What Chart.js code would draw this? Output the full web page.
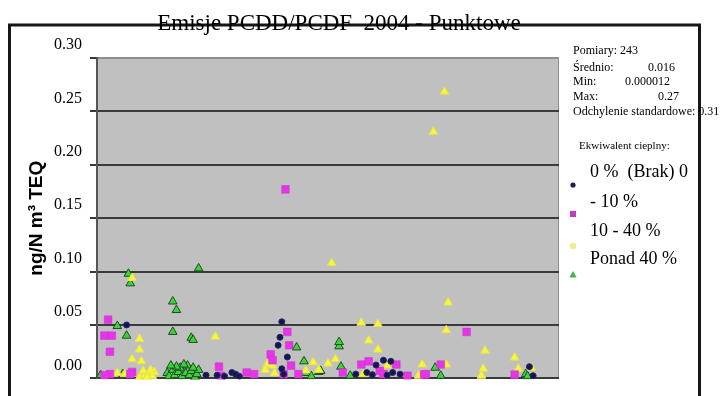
<!DOCTYPE html>
<html>
<head>
<meta charset="utf-8">
<script src="https://cdn.jsdelivr.net/npm/chart.js@4.4.1/dist/chart.umd.min.js"></script>
<style>
  html, body { margin: 0; padding: 0; background: #fff; }
  #wrap { width: 728px; height: 396px; }
</style>
</head>
<body>
<div id="wrap"><canvas id="c" width="728" height="396"></canvas></div>
<script>
// ---- Data (x = measurement sequence position, y = ng/N m3 TEQ) ----
const yTicks = [0.00, 0.05, 0.10, 0.15, 0.20, 0.25, 0.30];
const seriesNames = ['0 %  (Brak) 0', '- 10 %', '10 - 40 %', 'Ponad 40 %'];

const brakX = [16, 59, 100, 99, 98, 103, 100, 65, 69, 73, 75, 77, 101, 146, 149, 151, 155, 159, 160, 164, 140, 157, 236, 234];
const brakY = [0.050, 0.003, 0.053, 0.0385, 0.031, 0.020, 0.009, 0.003, 0.002, 0.0055, 0.004, 0.002, 0.004, 0.0055, 0.0035, 0.0125, 0.017, 0.016, 0.0055, 0.004, 0.004, 0.003, 0.0025, 0.011];

const do10X = [6, 4, 8, 7, 7, 19, 18, 102, 103, 104, 94, 95, 105, 66, 67, 81, 85, 101, 109, 143, 147, 162, 153, 155, 168, 177, 133, 186, 178, 200, 226, 4];
const do10Y = [0.055, 0.040, 0.040, 0.025, 0.004, 0.006, 0.004, 0.177, 0.0435, 0.031, 0.0225, 0.017, 0.012, 0.011, 0.0025, 0.0055, 0.004, 0.004, 0.004, 0.013, 0.016, 0.013, 0.007, 0.004, 0.0025, 0.0035, 0.0055, 0.013, 0.004, 0.0435, 0.0035, 0.003];

const do40X = [19, 23, 23, 19, 24, 11, 15, 23, 26, 28, 30, 31, 25, 27, 29, 64, 92, 95, 96, 91, 117, 120, 113, 125, 129, 127, 143, 152, 147, 152, 157, 144, 176, 174, 188, 182, 190, 189, 189, 210, 226, 209, 208, 228, 235];
const do40Y = [0.094, 0.037, 0.027, 0.018, 0.016, 0.005, 0.004, 0.001, 0.003, 0.005, 0.002, 0.006, 0.007, 0.001, 0.008, 0.039, 0.013, 0.012, 0.005, 0.008, 0.015, 0.008, 0.0074, 0.014, 0.018, 0.108, 0.052, 0.051, 0.0355, 0.027, 0.012, 0.004, 0.013, 0.0025, 0.2685, 0.231, 0.071, 0.045, 0.013, 0.026, 0.0195, 0.009, 0.0025, 0.009, 0.010];

const ponadX = [17, 18, 55, 41, 43, 41, 51, 52, 11, 16, 2, 14, 38, 39, 41, 42, 44, 45, 46, 48, 49, 50, 51, 53, 54, 55, 47, 43, 40, 52, 108, 112, 113, 116, 120, 131, 131, 132, 121, 137, 183, 186, 232, 233];
const ponadY = [0.098, 0.089, 0.103, 0.072, 0.064, 0.0435, 0.038, 0.036, 0.049, 0.040, 0.003, 0.004, 0.005, 0.002, 0.008, 0.003, 0.006, 0.010, 0.002, 0.005, 0.012, 0.003, 0.007, 0.001, 0.004, 0.008, 0.013, 0.011, 0.012, 0.010, 0.029, 0.016, 0.005, 0.002, 0.006, 0.030, 0.034, 0.011, 0.007, 0.0025, 0.010, 0.0025, 0.004, 0.002];

const statLabels = ['Pomiary: 243', 'Średnio:', 'Min:', 'Max:', 'Odchylenie standardowe: 0.31'];
const statValues = ['', '0.016', '0.000012', '0.27', ''];

function pts(xs, ys) { return xs.map((x, i) => ({ x: x, y: ys[i] })); }

const SERIF = '"Liberation Serif", "Times New Roman", serif';
const SANS = '"Liberation Sans", Arial, sans-serif';

const decorPlugin = {
  id: 'decor',
  beforeDraw(chart) {
    const { ctx, chartArea: a } = chart;
    ctx.save();
    ctx.fillStyle = '#ffffff';
    ctx.fillRect(0, 0, chart.width, chart.height);
    ctx.fillStyle = '#c0c0c0';
    ctx.fillRect(a.left, a.top, a.right - a.left, a.bottom - a.top);
    ctx.strokeStyle = '#8e8e8e';
    ctx.lineWidth = 1;
    ctx.strokeRect(a.left + 0.5, a.top + 0.5, a.right - a.left - 1, a.bottom - a.top - 1);
    ctx.restore();
  },
  afterDraw(chart) {
    const ctx = chart.ctx;
    ctx.save();
    // frame
    ctx.strokeStyle = '#161616';
    ctx.lineWidth = 3;
    ctx.beginPath();
    ctx.moveTo(9.5, 396); ctx.lineTo(9.5, 25); ctx.lineTo(699.5, 25); ctx.lineTo(699.5, 396);
    ctx.stroke();
    // title
    ctx.fillStyle = '#000';
    ctx.font = '23px ' + SERIF;
    ctx.textAlign = 'center';
    ctx.textBaseline = 'alphabetic';
    ctx.fillText('Emisje PCDD/PCDF  2004 - Punktowe', 339, 30);
    // statistics
    ctx.textAlign = 'left';
    ctx.textBaseline = 'middle';
    ctx.font = '12px ' + SERIF;
    const sy = [51, 68, 82, 97, 112];
    const vx = [0, 648, 625, 658, 0];
    statLabels.forEach((t, i) => {
      ctx.fillText(t, 573, sy[i]);
      if (statValues[i]) ctx.fillText(statValues[i], vx[i], sy[i]);
    });
    ctx.font = '11px ' + SERIF;
    ctx.fillText('Ekwiwalent cieplny:', 579, 146);
    // legend
    ctx.font = '18px ' + SERIF;
    const ty = [172, 202, 231, 259];
    const my = [185, 214, 246, 275];
    seriesNames.forEach((t, i) => ctx.fillText(t, 590, ty[i]));
    const mx = 573;
    ctx.fillStyle = '#1c1c55';
    ctx.beginPath(); ctx.arc(mx, my[0], 2.6, 0, Math.PI * 2); ctx.fill();
    ctx.fillStyle = '#c23cc2';
    ctx.fillRect(mx - 3, my[1] - 3, 6, 6);
    ctx.fillStyle = '#eeee8a';
    ctx.beginPath(); ctx.arc(mx, my[2], 3.2, 0, Math.PI * 2); ctx.fill();
    ctx.fillStyle = '#48b048';
    ctx.beginPath(); ctx.moveTo(mx, my[3] - 4); ctx.lineTo(mx + 3.6, my[3] + 2.5); ctx.lineTo(mx - 3.6, my[3] + 2.5); ctx.closePath(); ctx.fill();
    ctx.restore();
  }
};

new Chart(document.getElementById('c'), {
  type: 'scatter',
  data: {
    datasets: [
      { label: seriesNames[0], data: pts(brakX, brakY), pointStyle: 'circle', pointRadius: 3,
        backgroundColor: '#16164f', borderColor: '#26266a', borderWidth: 1, order: 1, clip: 1 },
      { label: seriesNames[1], data: pts(do10X, do10Y), pointStyle: 'rect', pointRadius: 5.4,
        backgroundColor: '#e436e4', borderColor: '#d42ad4', borderWidth: 0.5, order: 2, clip: 1 },
      { label: seriesNames[2], data: pts(do40X, do40Y), pointStyle: 'triangle', pointRadius: 5,
        backgroundColor: '#f6f63e', borderColor: '#e4e44c', borderWidth: 1, order: 3, clip: 1 },
      { label: seriesNames[3], data: pts(ponadX, ponadY), pointStyle: 'triangle', pointRadius: 5,
        backgroundColor: '#3cd43c', borderColor: '#1f4a1f', borderWidth: 1, order: 4, clip: 1 }
    ]
  },
  options: {
    responsive: false,
    animation: false,
    devicePixelRatio: 1,
    events: [],
    layout: { padding: { left: 25, right: 169, top: 58, bottom: 15 } },
    plugins: { legend: { display: false }, title: { display: false }, tooltip: { enabled: false } },
    scales: {
      x: { type: 'linear', min: 0, max: 250, display: false },
      y: {
        type: 'linear', min: yTicks[0], max: yTicks[yTicks.length - 1],
        afterFit(scale) { scale.width = 72; },
        afterBuildTicks(scale) { scale.ticks = yTicks.map(v => ({ value: v })); },
        ticks: {
          callback: v => Number(v).toFixed(2),
          color: '#000',
          font: { family: SERIF, size: 16 },
          padding: 8,
          labelOffset: -13
        },
        grid: {
          color: c => (c.tick && Math.abs(c.tick.value - 0.30) < 1e-9) ? '#8e8e8e' : '#3a3a3a',
          lineWidth: 2,
          tickLength: 7,
          tickColor: '#3a3a3a'
        },
        border: { display: true, color: '#555555', width: 2 },
        title: {
          display: true,
          text: 'ng/N m³ TEQ',
          color: '#000',
          font: { family: SANS, size: 19, weight: 'bold', lineHeight: 1.2 },
          padding: { top: 0, bottom: 0 }
        }
      }
    }
  },
  plugins: [decorPlugin]
});
</script>
</body>
</html>
